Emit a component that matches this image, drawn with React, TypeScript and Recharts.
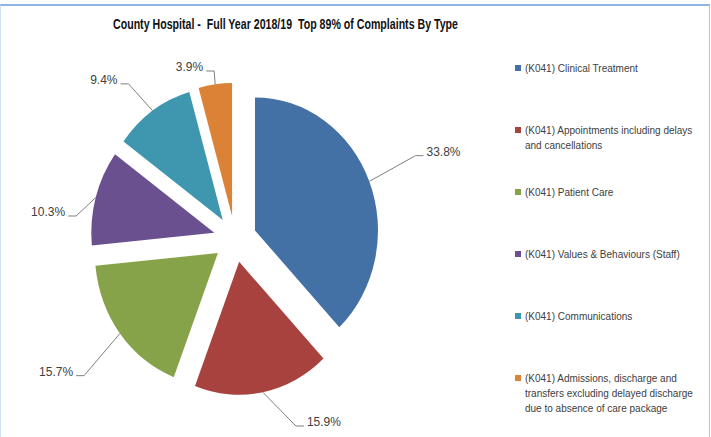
import React from 'react';
import { PieChart, Pie, Cell, Legend } from 'recharts';

const categories = [
  '(K041) Clinical Treatment',
  '(K041) Appointments including delays and cancellations',
  '(K041) Patient Care',
  '(K041) Values & Behaviours (Staff)',
  '(K041) Communications',
  '(K041) Admissions, discharge and transfers excluding delayed discharge due to absence of care package',
];
const shares = [33.8, 15.9, 15.7, 10.3, 9.4, 3.9];
const colors = ['#4370a5', '#a8423f', '#86a34a', '#6b5090', '#3e97ae', '#dc8237'];

const data = categories.map((name, i) => ({ name, value: shares[i] }));

const RAD = Math.PI / 180;
const SY = 1.081; // the picture is a little taller than wide
const EXPLODE = 21.5;
const FONT = '"Liberation Sans", Arial, sans-serif';

// Excel moved a few labels off the plain radial spot
const labelNudge = [[9, -11], [5, 1], [-4, 18], [19, 29], [4, 6], [27, 1]];

// each slice pulled out along its middle angle, drawn on a slightly stretched ellipse
const geom = (cx: number, cy: number, r: number, mid: number) => {
  const ux = Math.cos(-mid * RAD);
  const uy = Math.sin(-mid * RAD);
  const ax = cx + EXPLODE * ux;
  const ay = cy + EXPLODE * uy * SY;
  return { ux, uy, ax, ay, at: (a: number, rr: number = r) => [ax + rr * Math.cos(-a * RAD), ay + rr * SY * Math.sin(-a * RAD)] };
};

const ExplodedSlice = (props: any) => {
  const { cx, cy, outerRadius, startAngle, endAngle, fill } = props;
  const mid = (startAngle + endAngle) / 2;
  const g = geom(cx, cy, outerRadius, mid);
  const [x1, y1] = g.at(startAngle);
  const [x2, y2] = g.at(endAngle);
  const large = Math.abs(startAngle - endAngle) > 180 ? 1 : 0;
  const d = `M${g.ax},${g.ay} L${x1},${y1} A${outerRadius},${outerRadius * SY} 0 ${large} 1 ${x2},${y2} Z`;
  return <path d={d} fill={fill} stroke="none" />;
};

const renderLabel = (props: any) => {
  const { cx, cy, outerRadius, midAngle, value, index } = props;
  const g = geom(cx, cy, outerRadius, midAngle);
  const [ex, ey] = g.at(midAngle);
  const side = g.ux >= 0 ? 1 : -1;
  const L = 40;
  const [nx, ny] = labelNudge[index] || [0, 0];
  const bx = ex + side * Math.max(Math.abs(g.ux) * L, 28) + nx;
  const by = Math.min(425, Math.max(70, ey + g.uy * L)) + ny;
  const hx = bx + side * 8;
  return (
    <g>
      <polyline points={`${ex},${ey} ${bx},${by} ${hx},${by}`} fill="none" stroke="#7f7f7f" strokeWidth={1} />
      <text x={hx + side * 3} y={by - 4} textAnchor={side > 0 ? 'start' : 'end'} dominantBaseline="central"
        fontSize={12} fontFamily={FONT} fill="#404040">
        {`${value.toFixed(1)}%`}
      </text>
    </g>
  );
};

const renderLegend = (props: any) => {
  const items = [...(props.payload || [])].sort(
    (a: any, b: any) => categories.indexOf(a.value) - categories.indexOf(b.value)
  );
  return (
    <div style={{ width: 190, fontFamily: FONT, fontSize: 10, color: '#404040', lineHeight: '15px' }}>
      {items.map((entry: any, i: number) => (
        <div key={i} style={{ height: 62, display: 'flex', alignItems: 'flex-start' }}>
          <span style={{ width: 6, height: 6, background: entry.color, marginTop: 4, marginRight: 4, flex: 'none' }} />
          <span style={{ width: 176 }}>{entry.value}</span>
        </div>
      ))}
    </div>
  );
};

export default function App() {
  return (
    <div style={{ position: 'relative', width: 711, height: 437, background: '#fff', overflow: 'hidden' }}>
      <style>{'body{margin:0}'}</style>
      <div style={{ position: 'absolute', left: 0, top: 4, width: 708, height: 440, borderTop: '2px solid #8db4e2', borderLeft: '1px solid #d0e0f3', borderRight: '1px solid #a7c4e8' }} />
      <svg width={711} height={40} style={{ position: 'absolute', left: 0, top: 0 }}>
        <text x={285.5} y={29} textAnchor="middle" fontSize={14} fontWeight="bold" fontFamily={FONT}
          fill="#111" textLength={345} lengthAdjust="spacingAndGlyphs" style={{ whiteSpace: 'pre' }}>
          County Hospital -  Full Year 2018/19  Top 89% of Complaints By Type
        </text>
      </svg>
      <div style={{ position: 'absolute', left: 0, top: 0 }}>
        <PieChart width={711} height={437} margin={{ top: 0, right: 0, bottom: 0, left: 0 }}>
          <Pie
            data={data}
            dataKey="value"
            nameKey="name"
            cx={235}
            cy={239}
            outerRadius={123}
            startAngle={90}
            endAngle={-270}
            stroke="none"
            shape={ExplodedSlice}
            inactiveShape={ExplodedSlice}
            activeShape={ExplodedSlice}
            label={renderLabel}
            labelLine={false}
            isAnimationActive={false}
          >
            {data.map((d, i) => (
              <Cell key={d.name} fill={colors[i]} />
            ))}
          </Pie>
          <Legend
            layout="vertical"
            align="right"
            verticalAlign="top"
            content={renderLegend}
            wrapperStyle={{ left: 515, top: 61, width: 190 }}
          />
        </PieChart>
      </div>
    </div>
  );
}
